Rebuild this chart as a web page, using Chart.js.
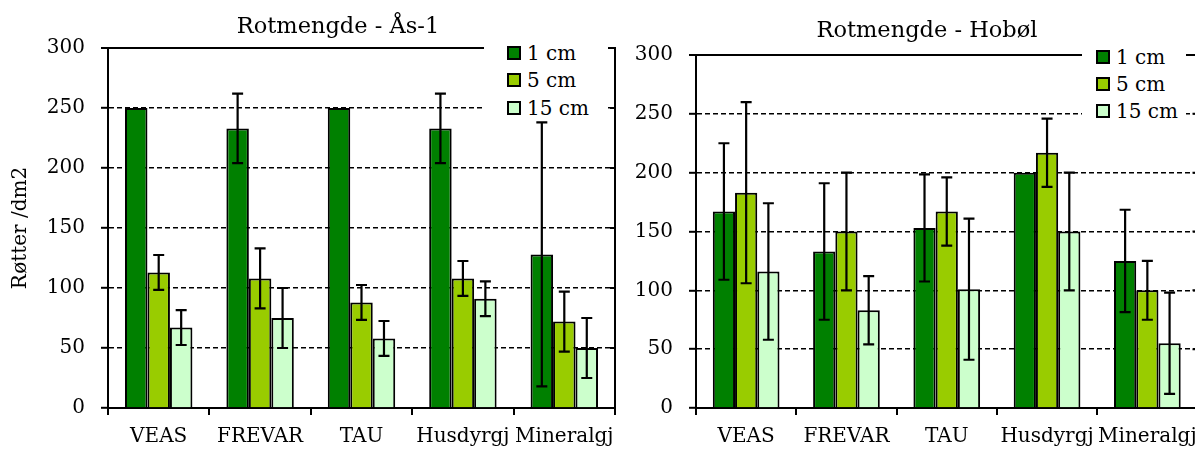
<!DOCTYPE html>
<html>
<head>
<meta charset="utf-8">
<title>Rotmengde</title>
<script src="https://cdn.jsdelivr.net/npm/chart.js@4.4.1/dist/chart.umd.min.js"></script>
<style>
  html, body { margin: 0; padding: 0; background: #fff; overflow: hidden; }
  #wrap { position: relative; width: 1195px; height: 450px; overflow: hidden; }
  #wrap canvas { position: absolute; top: 0; }
  #asChart { left: 0; }
  #hobolChart { left: 600px; }
  .legend { position: absolute; background: #fff; font: 20px 'DejaVu Serif'; color: #000; }
  .legend .item { position: absolute; display: flex; align-items: center; height: 24px; white-space: nowrap; }
  .legend .box { width: 14px; height: 14px; box-sizing: border-box; border: 2px solid #000; margin-right: 6px; }
</style>
</head>
<body>
<div id="wrap">
  <canvas id="asChart" width="676" height="450"></canvas>
  <canvas id="hobolChart" width="654" height="450"></canvas>
  <div class="legend" id="asLegend" style="left:484px; top:38px; width:124px; height:82px;"></div>
  <div class="legend" id="hobolLegend" style="left:1082px; top:43px; width:104px; height:80px;"></div>
</div>
<script>
const categories = ['VEAS', 'FREVAR', 'TAU', 'Husdyrgj', 'Mineralgj'];
const depthLabels = ['1 cm', '5 cm', '15 cm'];
const yTicks = [0, 50, 100, 150, 200, 250, 300];

// Ås-1: mean roots per dm2 and half-length of the error bar
const as1cm = [250, 233, 250, 233, 128];
const as1cmErr = [0, 29, 0, 29, 110];
const as5cm = [113, 108, 88, 108, 72];
const as5cmErr = [14.5, 25, 14.5, 14.5, 25];
const as15cm = [67, 75, 58, 91, 50];
const as15cmErr = [14.5, 25, 14.5, 14.5, 25];

// Hobøl
const hob1cm = [167, 133, 153, 200, 125];
const hob1cmErr = [58, 58, 45.5, 0, 43.5];
const hob5cm = [183, 150, 167, 217, 100];
const hob5cmErr = [77, 50, 29, 29, 25];
const hob15cm = [116, 83, 101, 150, 55];
const hob15cmErr = [58, 29, 60, 50, 43];

const depthColors = ['#008000', '#99cc00', '#ccffcc'];

Chart.defaults.font.family = 'DejaVu Serif';
Chart.defaults.font.size = 20;
Chart.defaults.color = '#000';

// whiskers drawn on top of the bars
const errorBars = {
    id: 'errorBars',
    afterDatasetsDraw(chart) {
        const { ctx, scales: { y } } = chart;
        ctx.save();
        ctx.strokeStyle = '#000';
        ctx.lineWidth = 2.2;
        chart.data.datasets.forEach((ds, i) => {
            chart.getDatasetMeta(i).data.forEach((bar, j) => {
                const err = ds.errors[j];
                if (!err) return;
                const hi = y.getPixelForValue(ds.data[j] + err);
                const lo = y.getPixelForValue(ds.data[j] - err);
                ctx.beginPath();
                ctx.moveTo(bar.x, hi); ctx.lineTo(bar.x, lo);
                ctx.moveTo(bar.x - 5.5, hi); ctx.lineTo(bar.x + 5.5, hi);
                ctx.moveTo(bar.x - 5.5, lo); ctx.lineTo(bar.x + 5.5, lo);
                ctx.stroke();
            });
        });
        ctx.restore();
    }
};

// right edge of the plot frame, with short inward ticks
const rightFrame = {
    id: 'rightFrame',
    beforeDatasetsDraw(chart) {
        const { ctx, chartArea: { top, bottom, right }, scales: { y } } = chart;
        ctx.save();
        ctx.strokeStyle = '#000';
        ctx.lineWidth = 2;
        ctx.beginPath();
        ctx.moveTo(right, top - 1);
        ctx.lineTo(right, bottom);
        y.ticks.forEach(t => {
            const py = y.getPixelForValue(t.value);
            ctx.moveTo(right - 5, py);
            ctx.lineTo(right, py);
        });
        ctx.stroke();
        ctx.restore();
    }
};

function makeChart(id, titleText, series, opts) {
    return new Chart(document.getElementById(id), {
        type: 'bar',
        data: {
            labels: categories,
            datasets: series.map((s, i) => ({
                label: depthLabels[i],
                data: s.values,
                errors: s.errors,
                backgroundColor: depthColors[i],
                borderColor: '#000',
                borderWidth: 2,
                barPercentage: 1,
                categoryPercentage: 0.665
            }))
        },
        options: {
            responsive: false,
            animation: false,
            events: [],
            layout: { padding: 0 },
            plugins: {
                legend: { display: false },
                tooltip: { enabled: false },
                title: {
                    display: true,
                    text: titleText,
                    color: '#000',
                    font: { size: 22.5, weight: 'normal' },
                    padding: opts.titlePadding
                }
            },
            scales: {
                x: {
                    offset: true,
                    grid: {
                        offset: true,
                        drawOnChartArea: false,
                        color: '#000',
                        lineWidth: 2,
                        tickLength: 7
                    },
                    border: { color: '#000', width: 2 },
                    ticks: { padding: 10, maxRotation: 0, autoSkip: false },
                    afterFit(scale) {
                        scale.height = 42;
                        scale.paddingLeft = 0;
                        scale.paddingRight = 0;
                    }
                },
                y: {
                    min: 0,
                    max: 300,
                    afterBuildTicks(scale) {
                        scale.ticks = yTicks.map(v => ({ value: v }));
                    },
                    grid: {
                        color: '#000',
                        lineWidth: c => (c.tick && c.tick.value === 300 ? 2 : 1.6),
                        tickLength: 7,
                        tickWidth: 2,
                        tickColor: '#000',
                        tickBorderDash: []
                    },
                    border: {
                        color: '#000',
                        width: 2,
                        dash: c => (c.tick && c.tick.value > 0 && c.tick.value < 300 ? [5, 3] : [])
                    },
                    ticks: { padding: 16 },
                    title: opts.yTitle ? {
                        display: true,
                        text: opts.yTitle,
                        font: { size: 20 },
                        padding: { top: 9, bottom: 0 }
                    } : { display: false },
                    afterFit(scale) {
                        scale.width = opts.yWidth;
                        scale.paddingTop = 0;
                        scale.paddingBottom = 0;
                    }
                },
                // empty box on the right so the title centres over the whole figure
                spacer: {
                    type: 'linear',
                    position: 'right',
                    display: true,
                    grid: { display: false },
                    border: { display: false },
                    ticks: { display: false },
                    afterFit(scale) {
                        scale.width = opts.spacerWidth;
                        scale.paddingTop = 0;
                        scale.paddingBottom = 0;
                    }
                }
            }
        },
        plugins: [rightFrame, errorBars]
    });
}

function buildLegend(id, boxLeft, rowTops) {
    const el = document.getElementById(id);
    depthLabels.forEach((label, i) => {
        const item = document.createElement('div');
        item.className = 'item';
        item.style.left = boxLeft + 'px';
        item.style.top = rowTops[i] + 'px';
        const box = document.createElement('span');
        box.className = 'box';
        box.style.background = depthColors[i];
        item.appendChild(box);
        item.appendChild(document.createTextNode(label));
        el.appendChild(item);
    });
}

makeChart('asChart', 'Rotmengde - Ås-1', [
    { values: as1cm, errors: as1cmErr },
    { values: as5cm, errors: as5cmErr },
    { values: as15cm, errors: as15cmErr }
], { spacerWidth: 61, yWidth: 108, yTitle: 'Røtter /dm2', titlePadding: { top: 13.5, bottom: 7.5 } });

makeChart('hobolChart', 'Rotmengde - Hobøl', [
    { values: hob1cm, errors: hob1cmErr },
    { values: hob5cm, errors: hob5cmErr },
    { values: hob15cm, errors: hob15cmErr }
], { spacerWidth: 56.5, yWidth: 96, yTitle: null, titlePadding: { top: 18, bottom: 10 } });

buildLegend('asLegend', 23, [3, 30, 58]);
buildLegend('hobolLegend', 14, [2, 29, 56]);
</script>
</body>
</html>
